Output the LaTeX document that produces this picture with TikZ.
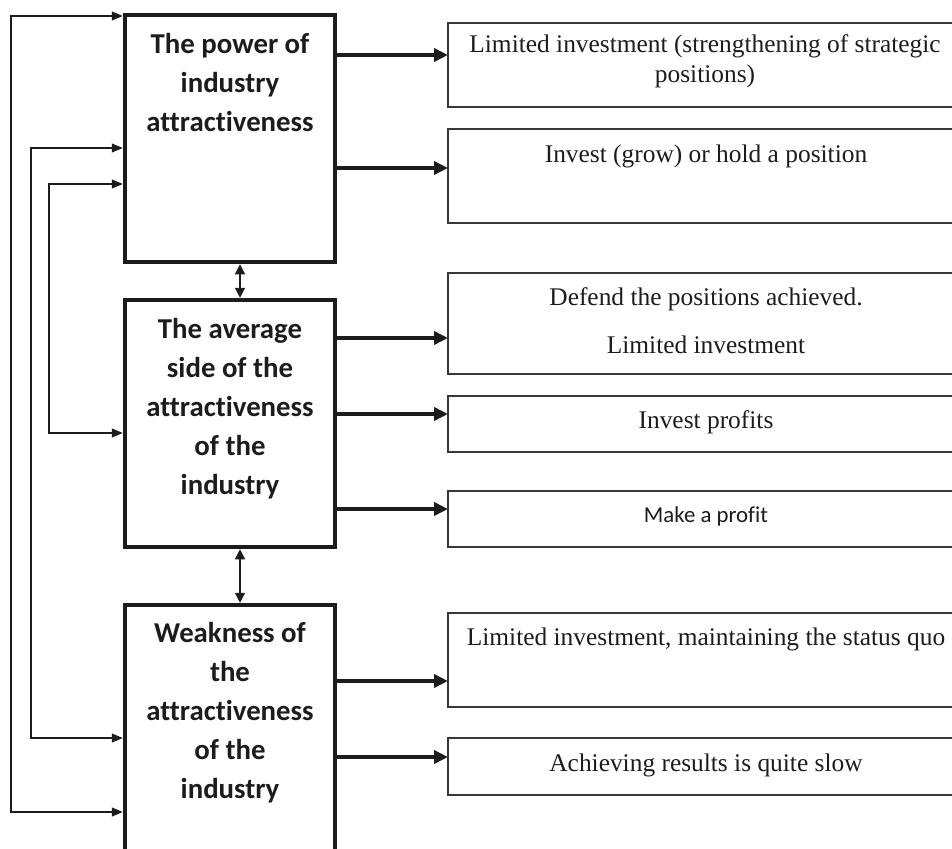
\documentclass[tikz,border=0pt]{standalone}
\usepackage{fontspec}
\setmainfont{Liberation Serif}
\newfontfamily\carl[Ligatures={NoCommon}]{Carlito}
\usetikzlibrary{arrows.meta}
\definecolor{ink}{RGB}{28,28,28}
\definecolor{edgec}{RGB}{55,55,55}
\begin{document}
\begin{tikzpicture}[x=1pt,y=-1pt,
  lbox/.style={draw=ink,line width=4.5pt,minimum width=210pt,inner sep=0pt,outer sep=0pt},
  ltext/.style={anchor=north,align=center,inner sep=0pt,text=ink,font=\carl\bfseries\fontsize{28.8}{39}\selectfont},
  rbox/.style={draw=edgec,line width=1.4pt,minimum width=522pt,inner sep=0pt,outer sep=0pt},
  rtext/.style={anchor=base,inner sep=0pt,text=ink,font=\fontsize{25.4}{30}\selectfont},
  bigarrow/.style={draw=ink,line width=4pt,-{Triangle[length=14pt,width=13pt]}},
  fb/.style={draw=ink,line width=1.2pt,{Triangle[length=11pt,width=9pt]}-{Triangle[length=11pt,width=9pt]},shorten >=2.25pt,shorten <=2.25pt},
  dbl/.style={draw=ink,line width=1.2pt,{Triangle[length=10pt,width=10pt]}-{Triangle[length=10pt,width=10pt]},shorten >=2.25pt,shorten <=2.25pt}
]
\useasboundingbox (0,0) rectangle (952,848);
\clip (0,0) rectangle (952,848);

% left boxes
\node[lbox,minimum height=247pt] (b1) at (230,138.5) {};
\node[lbox,minimum height=247pt] (b2) at (230,423.5) {};
\node[lbox,minimum height=265pt] (b3) at (230,737.5) {};
\node[ltext] (t1) at (230,29) {\rule{0pt}{24pt}The power of\\industry\\attractiveness};
\node[ltext] (t2) at (230,314) {\rule{0pt}{24pt}The average\\side of the\\attractiveness\\of the\\industry};
\node[ltext] (t3) at (230,618) {\rule{0pt}{24pt}Weakness of\\the\\attractiveness\\of the\\industry};

% right boxes
\node[rbox,minimum height=84pt] (r1) at (709,65) {};
\node[rbox,minimum height=94pt] (r2) at (709,176) {};
\node[rbox,minimum height=101pt] (r3) at (709,323.5) {};
\node[rbox,minimum height=56pt] (r4) at (709,424) {};
\node[rbox,minimum height=56pt] (r5) at (709,519) {};
\node[rbox,minimum height=94pt] (r6) at (709,660) {};
\node[rbox,minimum height=57pt] (r7) at (709,766.5) {};

\node[rtext,anchor=north,align=center] (s1) at (705,32) {\rule{0pt}{20pt}Limited investment (strengthening of strategic\\positions)};
\node[rtext] (s2) at (706,162) {Invest (grow) or hold a position};
\node[rtext,anchor=north,align=center] (s3) at (706,285) {\rule{0pt}{20pt}Defend the positions achieved.\\[18pt]Limited investment};
\node[rtext] (s4) at (706,428) {Invest profits};
\node[rtext,font=\carl\fontsize{22.8}{27}\selectfont] (s5) at (706,522) {Make a profit};
\node[rtext] (s6) at (706,645) {Limited investment, maintaining the status quo};
\node[rtext] (s7) at (706,771) {Achieving results is quite slow};

% right arrows
\draw[bigarrow] (b1.east |- 0,55) -- (r1.west |- 0,55);
\draw[bigarrow] (b1.east |- 0,168) -- (r2.west |- 0,168);
\draw[bigarrow] (b2.east |- 0,338) -- (r3.west |- 0,338);
\draw[bigarrow] (b2.east |- 0,414) -- (r4.west |- 0,414);
\draw[bigarrow] (b2.east |- 0,509) -- (r5.west |- 0,509);
\draw[bigarrow] (b3.east |- 0,681) -- (r6.west |- 0,681);
\draw[bigarrow] (b3.east |- 0,757) -- (r7.west |- 0,757);

% vertical double arrows
\draw[dbl] (b1.south -| 240,0) -- (b2.north -| 240,0);
\draw[dbl] (b2.south -| 240,0) -- (b3.north -| 240,0);

% feedback lines
\draw[fb] (b3.west |- 0,812) -- (11,812) -- (11,16) -- (b1.west |- 0,16);
\draw[fb] (b3.west |- 0,738) -- (31,738) -- (31,148) -- (b1.west |- 0,148);
\draw[fb] (b2.west |- 0,433) -- (49,433) -- (49,184) -- (b1.west |- 0,184);
\end{tikzpicture}
\end{document}
